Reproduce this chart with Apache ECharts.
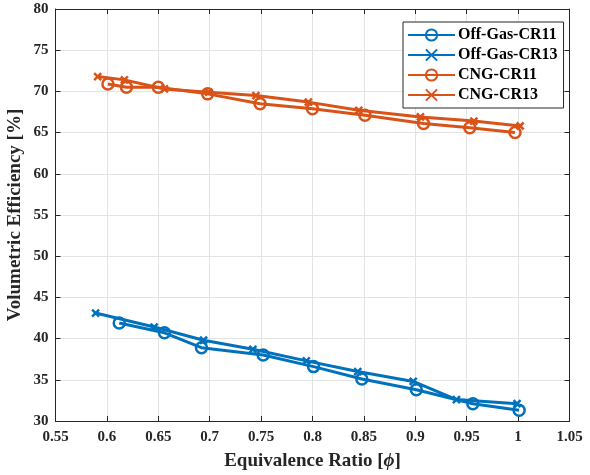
<!DOCTYPE html>
<html>
<head>
<meta charset="utf-8">
<script src="https://cdn.jsdelivr.net/npm/echarts@6/dist/echarts.min.js"></script>
<style>
  html, body { margin: 0; padding: 0; background: #fff; }
  #chart { width: 590px; height: 475px; }
</style>
</head>
<body>
<div id="chart"></div>
<script>
// Equivalence ratio / volumetric efficiency pairs for each fuel and compression ratio
const offGasCR11 = [[0.612, 41.9], [0.656, 40.7], [0.692, 38.9], [0.752, 38.0], [0.801, 36.6],
                    [0.848, 35.1], [0.901, 33.8], [0.956, 32.1], [1.001, 31.3]];
const offGasCR13 = [[0.589, 43.1], [0.646, 41.4], [0.694, 39.8], [0.742, 38.7], [0.794, 37.3],
                    [0.844, 36.0], [0.898, 34.8], [0.940, 32.6], [0.999, 32.1]];
const cngCR11 = [[0.601, 70.9], [0.619, 70.5], [0.650, 70.5], [0.698, 69.7], [0.749, 68.5],
                 [0.800, 67.9], [0.851, 67.1], [0.908, 66.1], [0.953, 65.6], [0.997, 65.0]];
const cngCR13 = [[0.591, 71.8], [0.617, 71.4], [0.656, 70.3], [0.699, 69.9], [0.745, 69.5],
                 [0.796, 68.7], [0.845, 67.7], [0.905, 66.9], [0.957, 66.4], [1.002, 65.8]];

const seriesNames = ['Off-Gas-CR11', 'Off-Gas-CR13', 'CNG-CR11', 'CNG-CR13'];
const xTicks = { min: 0.55, max: 1.05, step: 0.05 };
const yTicks = { min: 30, max: 80, step: 5 };

const BLUE = '#0072BD';
const ORANGE = '#D95319';
const FONT = '"Liberation Serif", "Times New Roman", serif';
const CROSS = 'path://M0,0L10,10M10,0L0,10';

function makeSeries(name, data, color, marker) {
  const isCircle = marker === 'circle';
  return {
    name: name,
    type: 'line',
    data: data,
    symbol: isCircle ? 'circle' : CROSS,
    symbolSize: isCircle ? 11 : 7,
    showAllSymbol: true,
    lineStyle: { color: color, width: 3 },
    itemStyle: {
      color: isCircle ? 'rgba(255,255,255,0)' : color,
      borderColor: color,
      borderWidth: 2.5
    },
    emphasis: { disabled: true },
    animation: false,
    z: 3
  };
}

const chart = echarts.init(document.getElementById('chart'), null, { renderer: 'canvas' });

const fmtX = v => String(Math.round(v * 100) / 100);

const axisCommon = {
  axisLine: { show: true, onZero: false, lineStyle: { color: '#262626', width: 1 } },
  axisTick: { show: true, inside: true, length: 5, lineStyle: { color: '#262626', width: 1 } }
};

chart.setOption({
  backgroundColor: '#fff',
  animation: false,
  textStyle: { fontFamily: FONT },
  grid: { left: 55.5, right: 20.5, top: 9, bottom: 54, containLabel: false, outerBoundsMode: 'none' },
  legend: {
    orient: 'vertical',
    left: 403,
    top: 22,
    padding: [5, 6, 5, 4],
    itemWidth: 47,
    itemHeight: 14,
    itemGap: 4,
    backgroundColor: '#fff',
    borderColor: '#262626',
    borderWidth: 1,
    data: seriesNames,
    textStyle: { fontFamily: FONT, fontWeight: 'bold', fontSize: 16, color: '#000', padding: [0, 0, 0, -2] }
  },
  xAxis: [
    Object.assign({}, axisCommon, {
      type: 'value',
      position: 'bottom',
      min: xTicks.min, max: xTicks.max, interval: xTicks.step,
      name: 'Equivalence Ratio [{i|ϕ}]',
      nameLocation: 'middle',
      nameGap: 31,
      nameTextStyle: {
        fontFamily: FONT, fontWeight: 'bold', fontSize: 19, color: '#262626',
        rich: { i: { fontFamily: FONT, fontStyle: 'italic', fontWeight: 'bold', fontSize: 19, color: '#262626' } }
      },
      axisLabel: { fontFamily: FONT, fontWeight: 'bold', fontSize: 15, color: '#262626', margin: 9, formatter: fmtX },
      splitLine: { show: true, lineStyle: { color: '#e3e3e3', width: 1 } }
    }),
    Object.assign({}, axisCommon, {
      type: 'value',
      position: 'top',
      min: xTicks.min, max: xTicks.max, interval: xTicks.step,
      axisLabel: { show: false },
      splitLine: { show: false }
    })
  ],
  yAxis: [
    Object.assign({}, axisCommon, {
      type: 'value',
      position: 'left',
      min: yTicks.min, max: yTicks.max, interval: yTicks.step,
      name: 'Volumetric Efficiency [%]',
      nameLocation: 'middle',
      nameGap: 31,
      nameMoveOverlap: false,
      nameTextStyle: { fontFamily: FONT, fontWeight: 'bold', fontSize: 19, color: '#262626' },
      axisLabel: { fontFamily: FONT, fontWeight: 'bold', fontSize: 15, color: '#262626', margin: 7 },
      splitLine: { show: true, lineStyle: { color: '#e3e3e3', width: 1 } }
    }),
    Object.assign({}, axisCommon, {
      type: 'value',
      position: 'right',
      min: yTicks.min, max: yTicks.max, interval: yTicks.step,
      axisLabel: { show: false },
      splitLine: { show: false }
    })
  ],
  series: [
    makeSeries(seriesNames[0], offGasCR11, BLUE, 'circle'),
    makeSeries(seriesNames[1], offGasCR13, BLUE, 'cross'),
    makeSeries(seriesNames[2], cngCR11, ORANGE, 'circle'),
    makeSeries(seriesNames[3], cngCR13, ORANGE, 'cross')
  ]
});
</script>
</body>
</html>
